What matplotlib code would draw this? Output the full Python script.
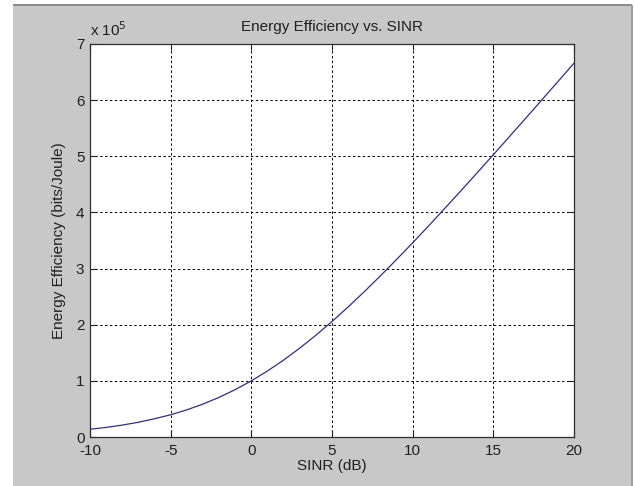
import numpy as np
import matplotlib
matplotlib.use("Agg")
import matplotlib.pyplot as plt
from matplotlib.patches import Rectangle
from matplotlib.ticker import FuncFormatter

# SINR in dB and energy efficiency (units of 1e5 bits/Joule)
sinr_db = list(range(-10, 21))
ee_1e5 = [0.138, 0.171, 0.212, 0.263, 0.325, 0.396, 0.484, 0.586, 0.706, 0.844,
          1.000, 1.176, 1.370, 1.583, 1.812, 2.057, 2.317, 2.588, 2.870, 3.161,
          3.459, 3.764, 4.075, 4.389, 4.707, 5.028, 5.351, 5.676, 6.002, 6.330,
          6.658]
x_ticks = [-10, -5, 0, 5, 10, 15, 20]
y_ticks = [0, 1, 2, 3, 4, 5, 6, 7]

ee = np.array(ee_1e5) * 1e5

plt.rcParams['font.family'] = ['Liberation Sans', 'DejaVu Sans']
plt.rcParams['axes.unicode_minus'] = False

W, H = 634, 486
fig = plt.figure(figsize=(W / 100, H / 100), dpi=100, facecolor='white')

# gray window area like the MATLAB figure
fig.patches.append(Rectangle((13 / W, 0), (632 - 13) / W, (H - 5) / H,
                             transform=fig.transFigure, facecolor='#c8c8c8',
                             edgecolor='none', zorder=-10))
fig.patches.append(Rectangle((13 / W, (H - 6) / H), (632 - 13) / W, 1.5 / H,
                             transform=fig.transFigure, facecolor='#8a8a8a',
                             edgecolor='none', zorder=-9))
fig.patches.append(Rectangle((631 / W, 0), 1.5 / W, (H - 5) / H,
                             transform=fig.transFigure, facecolor='#a0a0a0',
                             edgecolor='none', zorder=-9))

ax = fig.add_axes([90 / W, (H - 437) / H, (574 - 90) / W, (437 - 44) / H])
ax.set_zorder(5)
ax.set_facecolor('white')

ax.plot(sinr_db, ee, color='#2e2e8c', linewidth=0.9)

ax.set_xlim(-10, 20)
ax.set_ylim(0, 7e5)
ax.set_xticks(x_ticks)
ax.set_yticks([v * 1e5 for v in y_ticks])
ax.yaxis.set_major_formatter(FuncFormatter(lambda v, p: f'{v / 1e5:g}'))

ax.grid(True, color='black', linestyle=(0, (2.5, 2.5)), linewidth=0.7)
ax.tick_params(direction='in', length=4, width=0.8, labelsize=11,
               colors='#202020', top=True, right=True)
ax.tick_params(axis='x', pad=5)
ax.tick_params(axis='y', pad=4)
for s in ax.spines.values():
    s.set_linewidth(0.9)
    s.set_color('#303030')

ax.set_title('Energy Efficiency vs. SINR', fontsize=11, color='#202020', pad=9)
ax.set_xlabel('SINR (dB)', fontsize=11, color='#202020', labelpad=1)
ax.set_ylabel('Energy Efficiency (bits/Joule)', fontsize=11, color='#202020',
              labelpad=7)
ax.text(0.0, 1.012, r'x 10$^5$', transform=ax.transAxes, fontsize=11,
        color='#202020', ha='left', va='bottom')

fig.savefig('out.png', dpi=100, facecolor=fig.get_facecolor())
